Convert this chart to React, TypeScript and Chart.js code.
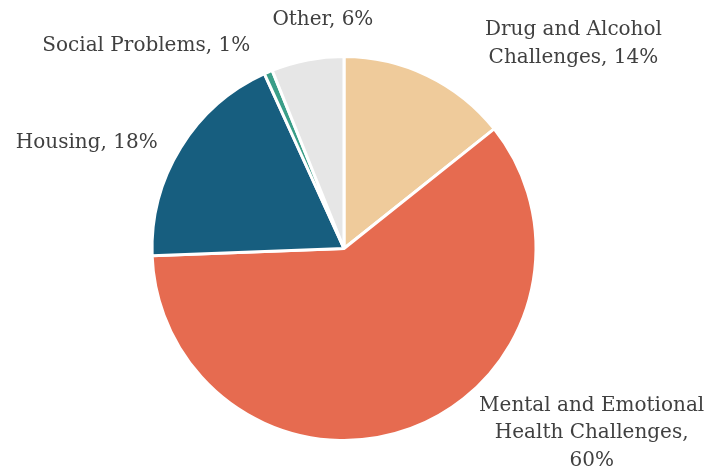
import React, { useEffect, useRef } from "react";
import { Chart, registerables } from "chart.js";

Chart.register(...registerables);

const categories = [
  "Drug and Alcohol Challenges",
  "Mental and Emotional Health Challenges",
  "Housing",
  "Social Problems",
  "Other",
];
const values = [14.3, 60.1, 18.8, 0.7, 6.1];
const percentLabels = ["14%", "60%", "18%", "1%", "6%"];
const labelLines = [
  ["Drug and Alcohol", "Challenges, 14%"],
  ["Mental and Emotional", "Health Challenges,", "60%"],
  ["Housing, 18%"],
  ["Social Problems, 1%"],
  ["Other, 6%"],
];
const colors = ["#EFCB9B", "#E66B50", "#175E7F", "#3A9E88", "#E6E6E6"];

// label centre offsets relative to pie centre, in units of radius
const labelAnchors = [
  [1.195, -1.065],
  [1.29, 0.96],
  [-1.34, -0.55],
  [-1.03, -1.055],
  [-0.11, -1.19],
];

const labelPlugin = {
  id: "outsideLabels",
  afterDatasetsDraw(chart: any) {
    const ctx = chart.ctx;
    const meta = chart.getDatasetMeta(0);
    const arc0 = meta.data[0];
    const cx = arc0.x;
    const cy = arc0.y;
    const r = arc0.outerRadius;
    ctx.save();
    ctx.fillStyle = "#404040";
    ctx.font = "20px 'DejaVu Serif'";
    ctx.textAlign = "center";
    ctx.textBaseline = "middle";
    const lh = 27.5;
    labelLines.forEach((lines, i) => {
      const [ax, ay] = labelAnchors[i];
      const x = cx + ax * r;
      const y = cy + ay * r;
      const y0 = y - ((lines.length - 1) * lh) / 2;
      lines.forEach((t, j) => ctx.fillText(t, x, y0 + j * lh));
    });
    ctx.restore();
  },
};

export default function App() {
  const ref = useRef<HTMLCanvasElement>(null);
  useEffect(() => {
    if (!ref.current) return;
    const chart = new Chart(ref.current, {
      type: "pie",
      data: {
        labels: categories,
        datasets: [
          {
            data: values,
            backgroundColor: colors,
            borderColor: "#FFFFFF",
            borderWidth: 3,
          },
        ],
      },
      options: {
        responsive: false,
        animation: false,
        layout: { padding: { top: 55, bottom: 26, left: 150, right: 169 } },
        plugins: {
          legend: { display: false },
          tooltip: { enabled: false },
        },
      },
      plugins: [labelPlugin],
    });
    return () => chart.destroy();
  }, []);
  return (
    <div style={{ position: "fixed", left: 0, top: 0, width: 707, height: 468, background: "#fff" }}>
      <canvas ref={ref} width={707} height={468} />
    </div>
  );
}
